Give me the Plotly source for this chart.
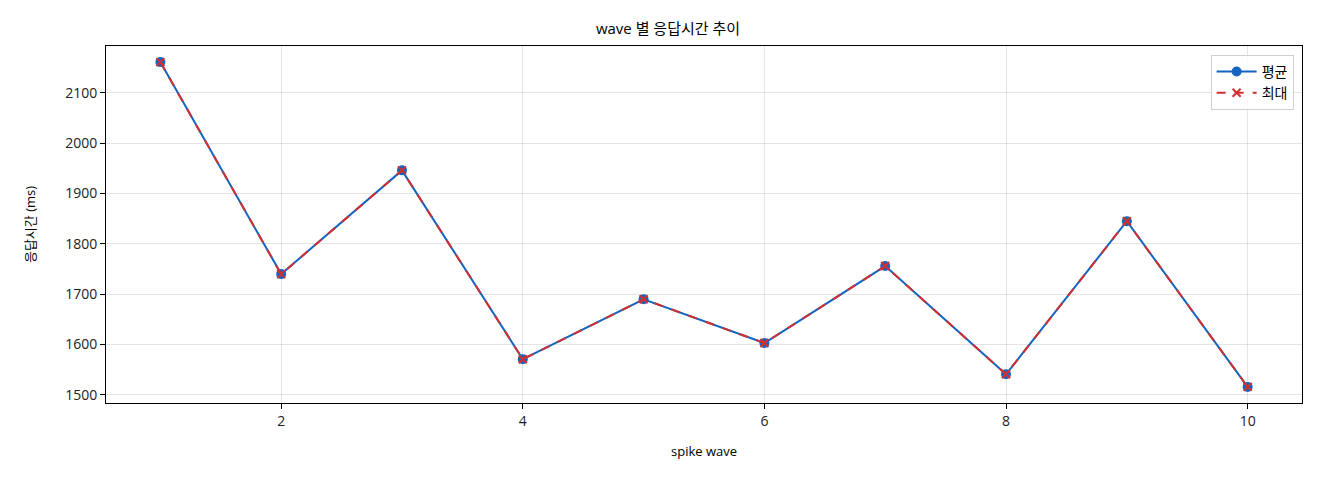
import plotly.graph_objects as go

# -----------------------------
# data
# -----------------------------
waves = [1, 2, 3, 4, 5, 6, 7, 8, 9, 10]
avg_ms = [2161, 1740, 1946, 1571, 1690, 1603, 1756, 1541, 1845, 1516]
max_ms = [2161, 1740, 1946, 1571, 1690, 1603, 1756, 1541, 1845, 1516]

FONT = "Open Sans, Noto Sans CJK KR"
BLUE = "#1565c0"
RED = "#d32f2f"

fig = go.Figure()
fig.add_trace(go.Scatter(
    x=waves, y=avg_ms, name="평균", mode="lines+markers",
    line=dict(color=BLUE, width=2),
    marker=dict(symbol="circle", size=10, color=BLUE),
))
fig.add_trace(go.Scatter(
    x=waves, y=max_ms, name="최대", mode="lines+markers",
    line=dict(color=RED, width=2, dash="dash"),
    marker=dict(symbol="x-thin", size=8, color=RED, line=dict(color=RED, width=2)),
))

axis_common = dict(
    showline=True, linecolor="black", linewidth=1, mirror=True,
    ticks="outside", ticklen=5, tickcolor="black",
    showgrid=True, gridcolor="rgba(0,0,0,0.1)", gridwidth=1,
    zeroline=False, tickfont=dict(family=FONT, size=14, color="#222"),
)

# page body adds an 8px offset, margins compensate for it
fig.update_layout(
    width=1320, height=480,
    paper_bgcolor="white", plot_bgcolor="white",
    margin=dict(l=98, r=26, t=38, b=85),
    title=dict(text="wave 별 응답시간 추이", x=0.5, xanchor="center",
               yref="container", y=0.956, yanchor="middle",
               font=dict(family=FONT, size=15, color="black")),
    font=dict(family=FONT, size=13, color="black"),
    xaxis=dict(axis_common, range=[0.55, 10.45], tickvals=[2, 4, 6, 8, 10],
               title=dict(text="spike wave", font=dict(family=FONT, size=13), standoff=18)),
    yaxis=dict(axis_common, range=[1484, 2193], dtick=100,
               title=dict(text="응답시간 (ms)", font=dict(family=FONT, size=13), standoff=26)),
    legend=dict(x=0.993, y=0.975, xanchor="right", yanchor="top",
                bgcolor="rgba(255,255,255,0.8)", bordercolor="#d0d0d0", borderwidth=1,
                font=dict(family=FONT, size=14), itemwidth=40, tracegroupgap=4),
    showlegend=True,
)

fig.write_html("out.html")
